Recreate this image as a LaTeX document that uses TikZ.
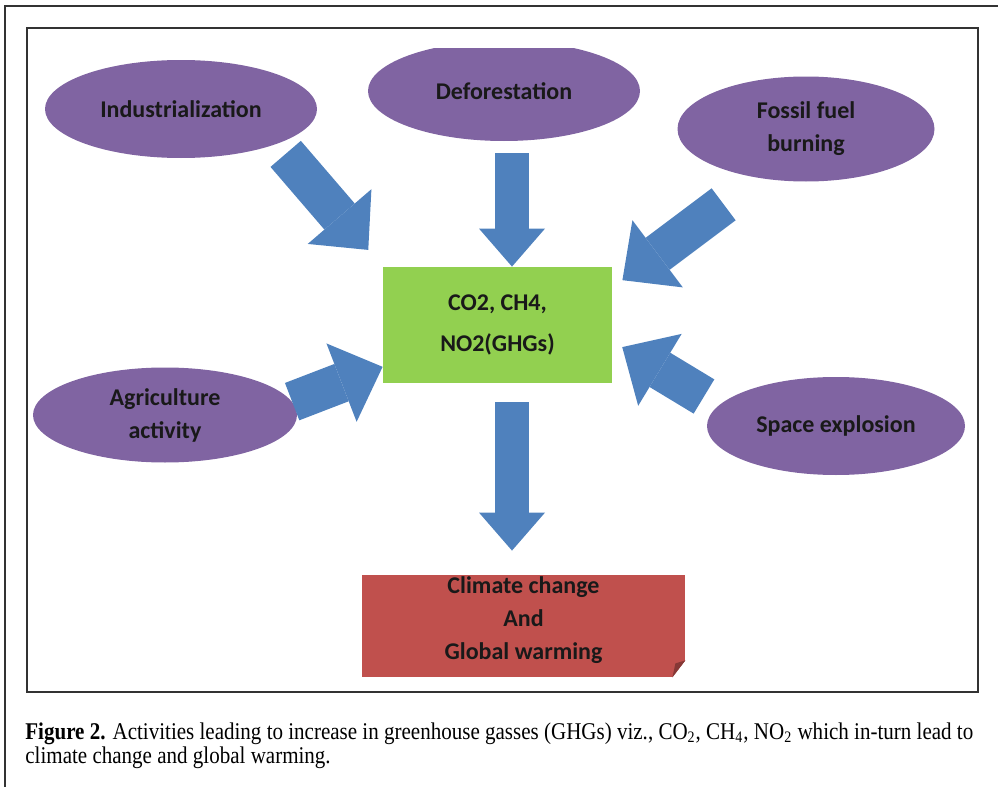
\documentclass[tikz,border=0pt]{standalone}
\usepackage{fontspec}
\setmainfont{Carlito}
\newfontfamily\capfont[FakeStretch=0.876]{Liberation Serif}
\usetikzlibrary{shapes.geometric,arrows.meta,calc}
\definecolor{causepurple}{HTML}{8064A2}
\definecolor{flowblue}{HTML}{4F81BD}
\definecolor{gasgreen}{HTML}{92D050}
\definecolor{warmred}{HTML}{C0504D}
\definecolor{framegray}{HTML}{333333}
\begin{document}
\begin{tikzpicture}[x=0.5pt,y=-0.5pt,
  lbl/.style={align=center,font=\bfseries\fontsize{12}{16.5}\selectfont,text=black!90},
  cause/.style={ellipse,fill=causepurple,inner sep=0pt,lbl},
  fat/.style={flowblue,line width=20pt,-{Triangle[width=42pt,length=22pt,line width=0pt]}},
  slim/.style={flowblue,line width=17pt,-{Triangle[width=33pt,length=19pt,line width=0pt]}}]
\useasboundingbox(0,0)rectangle(998,787);
% frames
\draw[framegray,line width=1pt](5,787)--(5,6)--(998,6);
\draw[framegray,line width=0.8pt](27,28)rectangle(978,692);
% activities
\node[cause,minimum width=136pt,minimum height=49pt](ind)at(181,109){Industrialization};
\begin{scope}
\clip(0,48)rectangle(998,300);
\node[cause,minimum width=136pt,minimum height=50pt](def)at(504,91){Deforestation};
\end{scope}
\node[cause,minimum width=128.5pt,minimum height=52.5pt](fos)at(806,129){Fossil fuel\\burning};
\node[cause,minimum width=132pt,minimum height=47.5pt](agr)at(165,415){Agriculture\\activity};
\node[cause,minimum width=129pt,minimum height=49pt](spa)at(836,426){Space explosion};
% gases and result
\node[lbl,fill=gasgreen,minimum width=114.5pt,minimum height=58pt,font=\bfseries\fontsize{12}{20.5}\selectfont](ghg)at(497.5,325){CO2, CH4,\\NO2(GHGs)};
\node[fill=warmred,minimum width=161.5pt,minimum height=51pt,
  label={[lbl,yshift=3pt]center:Climate change\\And\\Global warming}](clim)at(523.5,626){};
\fill[white](clim.south east)--++(0,-17)--++(-13,17)--cycle;
\fill[warmred!70!black](clim.south east)++(0,-17)--++(-13,17)--++(3,-14)--cycle;
% block arrows
\coordinate(dout)at($(def.south)+(8,0)$);
\coordinate(gin)at(dout|-ghg.north);
\coordinate(gout)at($(ghg.south)+(14.5,0)$);
\coordinate(cin)at(gout|-clim.north);
\draw[fat,shorten <=6.5pt,shorten >=11pt](ind.-20)--(ghg.north west);
\draw[slim,shorten <=6pt](dout)--(gin);
\draw[fat,shorten <=21.8pt,shorten >=6.25pt](fos.226)--(ghg.18);
\draw[fat](agr.6)--(ghg.200);
\draw[fat,shorten <=8.5pt,shorten >=5.75pt](spa.170)--(ghg.-8);
\draw[slim,shorten <=9.5pt,shorten >=12pt](gout)--(cin);
% caption
\node[anchor=north west,inner sep=0pt,align=left,font=\capfont\fontsize{12}{12}\selectfont](cap)at(25,722){\textbf{Figure 2.} Activities leading to increase in greenhouse gasses (GHGs) viz., CO\textsubscript{2}, CH\textsubscript{4}, NO\textsubscript{2} which in-turn lead to\\climate change and global warming.};
\end{tikzpicture}
\end{document}
